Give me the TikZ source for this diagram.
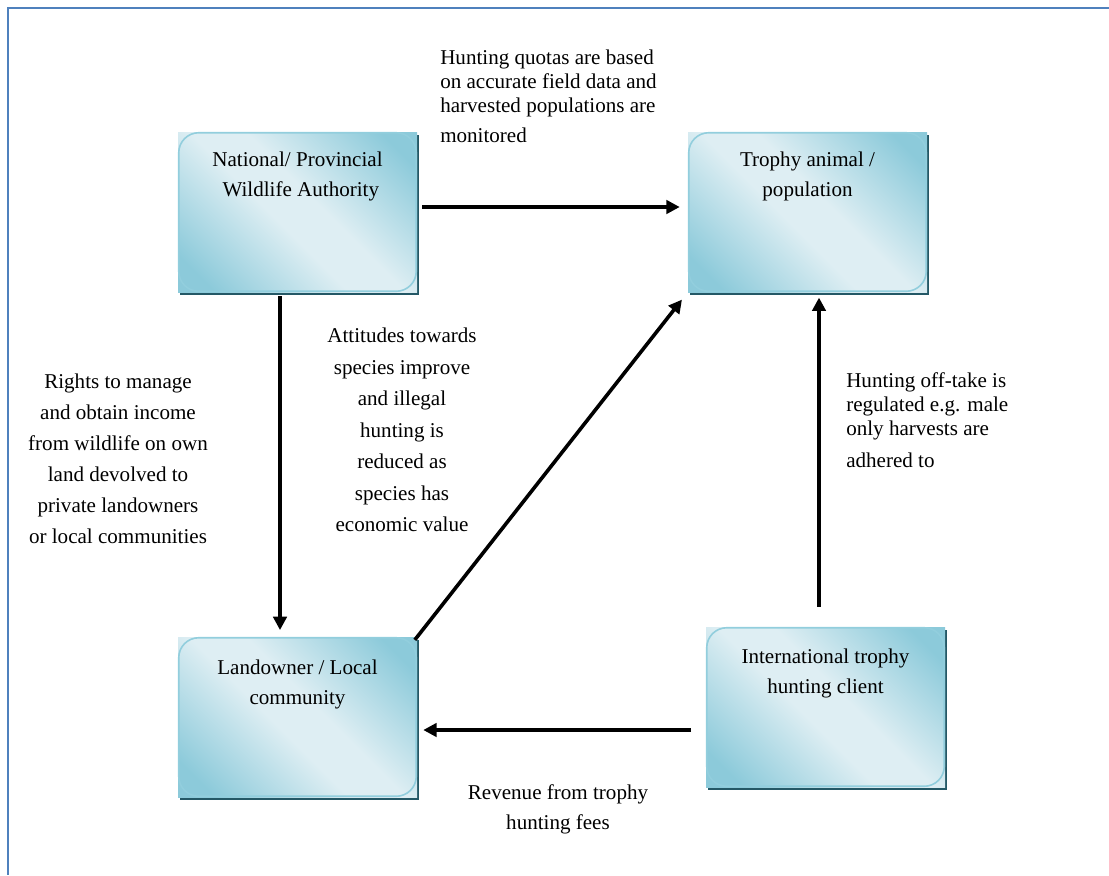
\documentclass[tikz,border=0pt]{standalone}
\usepackage{fontspec}
\setmainfont{Liberation Serif}
\usetikzlibrary{positioning,arrows.meta,shadows}

\definecolor{frameblue}{RGB}{79,129,189}
\definecolor{boxdark}{RGB}{140,202,218}
\definecolor{boxlight}{RGB}{222,238,243}
\definecolor{boxrimblue}{RGB}{146,206,221}
\definecolor{shadowteal}{RGB}{36,88,102}

\pgfdeclareverticalshading{tboxshade}{100bp}{color(0bp)=(boxdark); color(21bp)=(boxdark);
  color(45bp)=(boxlight); color(55bp)=(boxlight); color(79bp)=(boxdark); color(100bp)=(boxdark)}

\tikzset{
  tbox/.style={rectangle, minimum width=179.25pt, minimum height=120pt, inner sep=0pt,
    shading=tboxshade, shading angle=-45,
    drop shadow={shadow xshift=1.5pt, shadow yshift=-2.5pt, fill=shadowteal, opacity=1}},
  boxrim/.style={draw=boxrimblue, line width=1.2pt, rounded corners=15pt},
  boxlabel/.style={inner sep=0pt, align=center, font=\fontsize{15.8}{22.5}\selectfont},
  note/.style={inner sep=0pt, font=\fontsize{15.8}{23.3}\selectfont},
  flow/.style={line width=2.7pt, -{Triangle[length=10pt,width=10pt]}}
}

\begin{document}
\begin{tikzpicture}[x=0.75pt,y=0.75pt,yscale=-1,xscale=1]
    \useasboundingbox (0,0) rectangle (1109,875);

    %Straight Lines: frame
    \draw[frameblue, line width=1.5pt] (1109,8) -- (8,8) -- (8,875) ;

    %Shape: Rectangle
    \node[tbox] (authority) at (297.5,212) {};
    %Shape: Rectangle
    \node[tbox] (trophy) at (807.5,212) {};
    %Shape: Rectangle
    \node[tbox] (landowner) at (297.5,717) {};
    %Shape: Rectangle
    \node[tbox] (client) at (825.5,707) {};

    %Shape: Rounded Rect rims
    \foreach \b in {authority,trophy,landowner,client}
      \draw[boxrim] ([shift={(1,1)}]\b.north west) rectangle ([shift={(-1,-1)}]\b.south east) ;

    % Text Node
    \node[boxlabel, below=15pt of authority.north] {National/ Provincial\\\hspace*{5pt}Wildlife Authority};
    % Text Node
    \node[boxlabel, below=15pt of trophy.north] {Trophy animal /\\population};
    % Text Node
    \node[boxlabel, below=17pt of landowner.north] {Landowner / Local\\community};
    % Text Node
    \node[boxlabel, below=16.5pt of client.north] {International trophy\\hunting client};

    \coordinate (quotaline) at (0,207);
    \coordinate (rightsline) at (280,0);
    \coordinate (offtakeline) at (819,0);
    \coordinate (feeline) at (0,730);

    %Straight Lines
    \draw[flow, shorten <=3.75pt, shorten >=6pt] (authority.east |- quotaline) -- (trophy.west |- quotaline) ;
    %Straight Lines
    \draw[flow, shorten <=3pt, shorten >=5pt] (authority.south -| rightsline) -- (landowner.north -| rightsline) ;
    %Straight Lines
    \draw[flow, shorten <=-3pt, shorten >=7pt] (landowner.north east) -- (trophy.south west) ;
    %Straight Lines
    \draw[flow, shorten <=15pt, shorten >=4pt] (client.north -| offtakeline) -- (trophy.south -| offtakeline) ;
    %Straight Lines
    \draw[flow, shorten <=11pt, shorten >=4.5pt] (client.west |- feeline) -- (landowner.east |- feeline) ;

    % Text Node
    \node[note, anchor=north west, align=left, font=\fontsize{15.8}{18}\selectfont] (quotanote) at (440,49.5)
      {Hunting quotas are based\\on accurate field data and\\harvested populations are\\[4.5pt]monitored};
    % Text Node
    \node[note, anchor=north, align=center] (rightsnote) at (118,373.5)
      {Rights to manage\\and obtain income\\from wildlife on own\\land devolved to\\private landowners\\or local communities};
    % Text Node
    \node[note, anchor=north, align=center, font=\fontsize{15.8}{23.6}\selectfont] (attitudenote) at (402,328)
      {Attitudes towards\\species improve\\and illegal\\hunting is\\reduced as\\species has\\economic value};
    % Text Node
    \node[note, anchor=north west, align=left, font=\fontsize{15.8}{18}\selectfont] (offtakenote) at (846,372)
      {Hunting off-take is\\regulated e.g. male\\only harvests are\\[6pt]adhered to};
    % Text Node
    \node[note, anchor=north, align=center, font=\fontsize{15.8}{22.5}\selectfont] (feenote) at (558,784)
      {Revenue from trophy\\hunting fees};
\end{tikzpicture}
\end{document}
